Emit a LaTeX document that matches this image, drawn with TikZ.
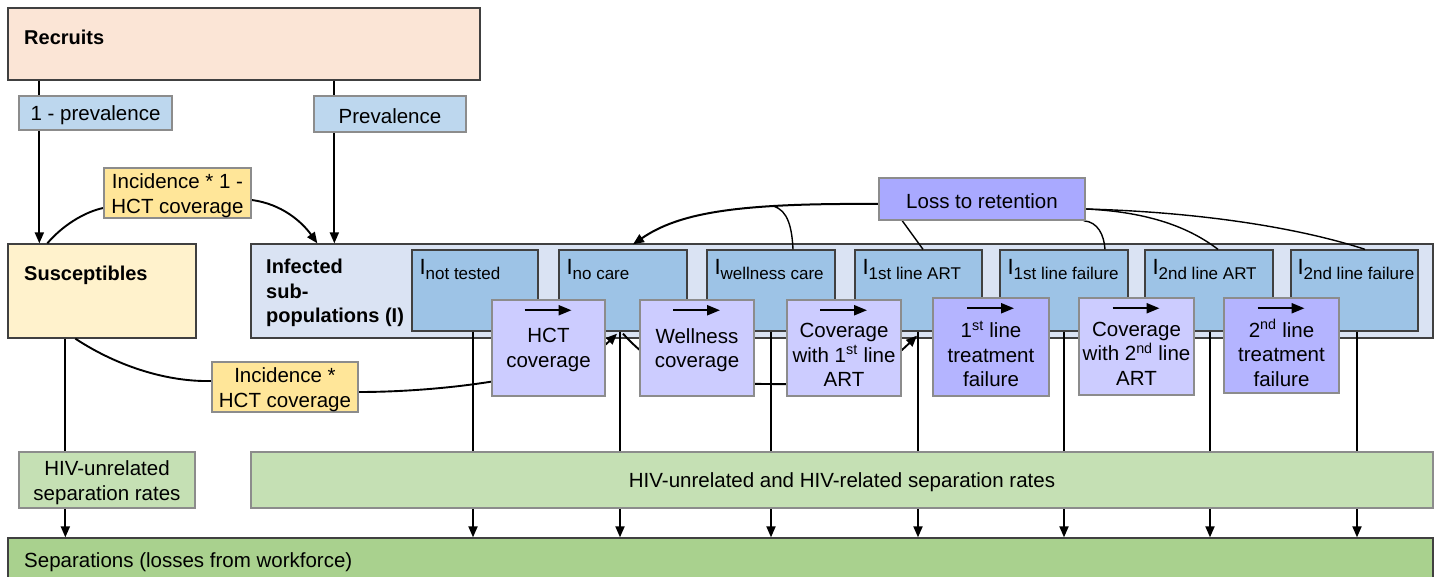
\documentclass[tikz,border=0pt]{standalone}
\usepackage{fontspec}
\setmainfont{Liberation Sans}
\usetikzlibrary{arrows.meta,calc}
\definecolor{cRec}{HTML}{FBE5D6}
\definecolor{cPrev}{HTML}{BDD7EE}
\definecolor{cInc}{HTML}{FFE699}
\definecolor{cSus}{HTML}{FFF2CC}
\definecolor{cInf}{HTML}{DAE3F3}
\definecolor{cI}{HTML}{9DC3E6}
\definecolor{cTl}{HTML}{CCCCFF}
\definecolor{cTd}{HTML}{B4B4FF}
\definecolor{cLoss}{HTML}{A9A9FF}
\definecolor{cSep}{HTML}{C5E0B4}
\definecolor{cSeps}{HTML}{A9D18E}
\definecolor{cDark}{HTML}{404040}
\definecolor{cGray}{HTML}{8C8C8C}
\pgfdeclarelayer{back}
\pgfdeclarelayer{mid}
\pgfsetlayers{back,mid,main}
\newcommand\mybox[7]{\node[#2,minimum width={#5-#3},minimum height={#6-#4}] (#1) at ({(#3+#5)/2},{(#4+#6)/2}) {#7};}
\newcommand\mytbox[7]{\node[#2,minimum width={#5-#3},minimum height={#6-#4}] (#1) at ({(#3+#5)/2},{(#4+#6)/2}) {};
  \node[txt,align=center] (#1-t) at ($(#1.center)+(0,2.5)$) {#7};}
\newcommand\isub[1]{\raisebox{-5pt}{\fontsize{17}{17}\selectfont #1}}
\begin{document}
\begin{tikzpicture}[x=1pt,y=-1pt,
 darkbox/.style={draw=cDark,line width=1.3pt,inner sep=0pt},
 graybox/.style={draw=cGray,line width=1.5pt,inner sep=0pt},
 txt/.style={inner sep=0pt,font=\fontsize{20.5}{24.5}\selectfont},
 btxt/.style={inner sep=0pt,font=\fontsize{20}{24.5}\selectfont\bfseries,align=left},
 ilab/.style={anchor=base west,inner sep=0pt,font=\fontsize{22}{22}\selectfont},
 arr/.style={line width=1.9pt,-{Triangle[length=11pt,width=9pt]}},
 tarr/.style={line width=2.2pt,-{Triangle[length=13pt,width=10pt]}},
 ln/.style={line width=1.9pt},
 lossln/.style={line width=1.4pt},
]
\useasboundingbox (0,0) rectangle (1440,577);
\begin{pgfonlayer}{back}
\fill[white] (0,0) rectangle (1440,577);
\mybox{recruits}{darkbox,fill=cRec}{8}{8}{480}{80}{}
\node[btxt,anchor=west] (recT) at (24,37) {Recruits};
\mybox{sus}{darkbox,fill=cSus}{8}{244}{196}{338}{}
\node[btxt,anchor=west] (susT) at (24,275) {Susceptibles};
\mybox{inf}{darkbox,fill=cInf}{251}{244}{1433}{338}{}
\node[btxt,anchor=north west] (infT) at (266,259) {Infected\\sub-\\populations (I)};
\mybox{Ia}{darkbox,fill=cI}{412}{250}{538}{331}{}
\mybox{Ib}{darkbox,fill=cI}{559}{250}{687}{331}{}
\mybox{Ic}{darkbox,fill=cI}{707}{250}{835}{331}{}
\mybox{Id}{darkbox,fill=cI}{855}{250}{982}{331}{}
\mybox{Ie}{darkbox,fill=cI}{1000}{250}{1128}{331}{}
\mybox{If}{darkbox,fill=cI}{1145}{250}{1273}{331}{}
\mybox{Ig}{darkbox,fill=cI}{1291}{250}{1418}{331}{}
\mybox{seps}{darkbox,fill=cSeps}{8}{538}{1433}{592}{}
\node[txt,anchor=west] (sepsT) at (24,562) {Separations (losses from workforce)};
\end{pgfonlayer}
% labels of infected sub-populations
\node[ilab] (IaL) at ([xshift=8pt,yshift=-25pt]Ia.north west) {I\isub{not tested}};
\node[ilab] (IbL) at ([xshift=8pt,yshift=-25pt]Ib.north west) {I\isub{no care}};
\node[ilab] (IcL) at ([xshift=8pt,yshift=-25pt]Ic.north west) {I\isub{wellness care}};
\node[ilab] (IdL) at ([xshift=8pt,yshift=-25pt]Id.north west) {I\isub{1st line ART}};
\node[ilab] (IeL) at ([xshift=8pt,yshift=-25pt]Ie.north west) {I\isub{1st line failure}};
\node[ilab] (IfL) at ([xshift=8pt,yshift=-25pt]If.north west) {I\isub{2nd line ART}};
\node[ilab] (IgL) at ([xshift=7pt,yshift=-25pt]Ig.north west) {I\isub{2nd line failure}};
% overlay boxes
\mytbox{prev1}{graybox,fill=cPrev}{19}{96}{172}{130}{1 - prevalence}
\mytbox{prev}{graybox,fill=cPrev}{314}{96}{466}{132}{Prevalence}
\mytbox{inc1}{graybox,fill=cInc}{104}{168}{251}{218}{Incidence * 1 -\\HCT coverage}
\mytbox{inc2}{graybox,fill=cInc}{212}{362}{358}{412}{Incidence *\\HCT coverage}
\mytbox{sepA}{graybox,fill=cSep}{19}{452}{195}{508}{HIV-unrelated\\separation rates}
\mytbox{sepB}{graybox,fill=cSep}{251}{452}{1433}{508}{HIV-unrelated and HIV-related separation rates}
\mytbox{loss}{graybox,fill=cLoss}{879}{178}{1085}{220}{Loss to retention}
\mybox{Ta}{graybox,fill=cTl}{492}{300}{605}{396}{}
\mybox{Tb}{graybox,fill=cTl}{640}{300}{754}{396}{}
\mybox{Tc}{graybox,fill=cTl}{787}{300}{901}{396}{}
\mybox{Td}{graybox,fill=cTd}{933}{298}{1049}{396}{}
\mybox{Te}{graybox,fill=cTl}{1079}{298}{1194}{395}{}
\mybox{Tf}{graybox,fill=cTd}{1224}{298}{1339}{393}{}
\node[txt,align=center] (TaT) at ($(Ta.center)+(0,2)$) {HCT\\coverage};
\node[txt,align=center] (TbT) at ($(Tb.center)+(0,2)$) {Wellness\\coverage};
\node[txt,align=center] (TcT) at ($(Tc.center)+(0,7)$) {Coverage\\with 1\textsuperscript{st} line\\ART};
\node[txt,align=center] (TdT) at ($(Td.center)+(0,7)$) {1\textsuperscript{st} line\\treatment\\failure};
\node[txt,align=center] (TeT) at ($(Te.center)+(0,7)$) {Coverage\\with 2\textsuperscript{nd} line\\ART};
\node[txt,align=center] (TfT) at ($(Tf.center)+(0,7.5)$) {2\textsuperscript{nd} line\\treatment\\failure};
\foreach \t in {Ta,Tb,Tc,Td,Te,Tf}{
  \draw[tarr] ($(\t.north)+(-24,11)$) -- ($(\t.north)+(23,11)$);
}
\begin{pgfonlayer}{mid}
% recruits split
\draw[arr] ([xshift=32pt]recruits.south west) -- ([xshift=32pt]sus.north west);
\draw[arr] ([xshift=327pt]recruits.south west) -- ([xshift=84pt]inf.north west);
% separations
\draw[arr] ([xshift=58pt]sus.south west) -- ([xshift=58pt]seps.north west);
\foreach \n/\d in {Ia/-2,Ib/-3,Ic/0,Id/-0.5,Ie/0,If/1,Ig/2.5}{
  \draw[arr] ($(\n.south)+(\d,0)$) coordinate (tmp) -- (tmp |- seps.north);
}
% incidence flows
\draw[ln] ([xshift=40pt]sus.north west) .. controls (62,226) and (84,212) .. ([yshift=-15pt]inc1.west);
\draw[arr] ([yshift=-7pt]inc1.east) .. controls (282,204) and (302,222) .. ([xshift=67pt]inf.north west);
\draw[ln] ([xshift=68pt]sus.south west) .. controls (120,368) and (170,382) .. ([yshift=6pt]inc2.west);
\draw[arr] ([yshift=-5pt]inc2.east) .. controls (450,392) and (575,375) .. ($(Ib.south)+(-6,2)$);
\draw[arr] ($(Ib.south)+(0,2)$) .. controls (660,375) and (700,384) .. (770,384)
   .. controls (860,386) and (890,362) .. ($(Id.south)+(-1.5,4)$);
% loss to retention
\draw[arr,line width=2pt] ([yshift=-5pt]loss.west) .. controls (740,203) and (680,212) .. coordinate[pos=0.3] (lb) ($(Ib.north)+(10,-5)$);
\draw[lossln] (lb) .. controls (788,210) and (792,228) .. ($(Ic.north)+(22,0)$);
\draw[lossln] ([xshift=24pt]loss.south west) -- ($(Id.north)+(4.5,0)$);
\draw[lossln] ([xshift=-2pt]loss.south east) .. controls (1098,222) and (1104,235) .. ($(Ie.north)+(41,0)$);
\draw[lossln] ([yshift=-10pt]loss.east) .. controls (1150,212) and (1190,228) .. ($(If.north)+(9,0)$);
\draw[lossln] ([yshift=-10pt]loss.east) .. controls (1200,212) and (1300,228) .. ($(Ig.north)+(10.5,0)$);
\end{pgfonlayer}
\end{tikzpicture}
\end{document}
